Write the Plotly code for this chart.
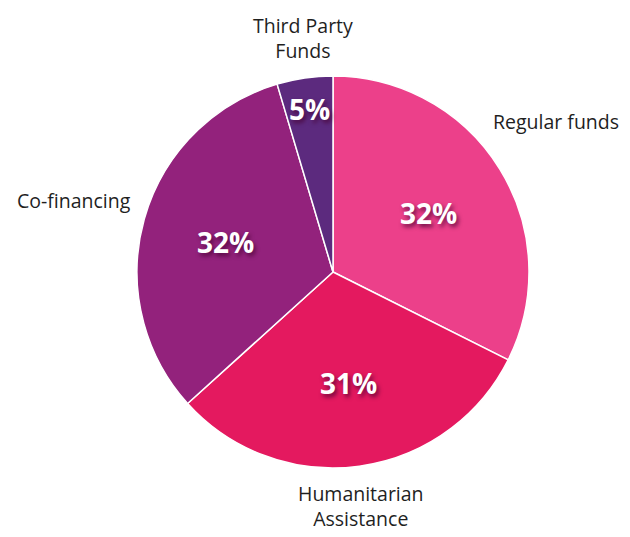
import math
import plotly.graph_objects as go

# ---- data ----
labels = ["Regular funds", "Humanitarian<br>Assistance", "Co-financing", "Third Party<br>Funds"]
values = [32.4, 30.9, 32.1, 4.6]
colors = ["#ec408a", "#e4195f", "#93227c", "#5c2a7e"]

# ---- layout geometry (figure px; page adds an 8px body margin) ----
W, H = 622, 529
CX, CY, R = 325, 264, 196  # pie centre / radius in px
LABEL_SIZE = 19.5
PCT_SIZE = 28

dom_x = [(CX - R) / W, (CX + R) / W]
dom_y = [1 - (CY + R) / H, 1 - (CY - R) / H]

fig = go.Figure(go.Pie(
    labels=labels, values=values, sort=False, direction="clockwise", rotation=0,
    marker=dict(colors=colors, line=dict(color="white", width=1.5)),
    textinfo="none", hoverinfo="label+percent", showlegend=False,
    domain=dict(x=dom_x, y=dom_y),
))

total = sum(values)
annotations = []
cum = 0.0
for lab, v in zip(labels, values):
    frac = v / total
    mid = (cum + frac / 2) * 2 * math.pi
    cum += frac
    dx, dy = math.sin(mid), -math.cos(mid)  # screen direction (y down)

    # percent label inside
    rf = 0.57 if frac > 0.1 else 0.84
    px, py = CX + dx * R * rf, CY + dy * R * rf
    annotations.append(dict(
        x=px / W, y=1 - py / H, xref="paper", yref="paper", showarrow=False,
        text=f"<b>{round(frac * 100):d}%</b>",
        font=dict(family="Open Sans", size=PCT_SIZE, color="white",
                  shadow="2px 3px 4px rgba(70,0,50,0.75)"),
        xanchor="center", yanchor="middle",
    ))

    # category label outside
    g = R + 12
    ox, oy = CX + dx * g, CY + dy * g
    xa = "left" if dx > 0.3 else ("right" if dx < -0.3 else "center")
    ya = "bottom" if dy < -0.1 else ("top" if dy > 0.1 else "middle")
    est_w = 0.54 * LABEL_SIZE * max(len(s) for s in lab.split("<br>"))
    if xa == "left" and ox + est_w > W - 2:
        # slide the label along the circle so it stays inside the figure
        ox = W - 2 - est_w
        oy = CY - math.copysign(math.sqrt(max(g * g - (ox - CX) ** 2, 0)), -dy)
    annotations.append(dict(
        x=ox / W, y=1 - oy / H, xref="paper", yref="paper", showarrow=False,
        text=lab, align="center",
        font=dict(family="Open Sans", size=LABEL_SIZE, color="#1f1f1f"),
        xanchor=xa, yanchor=ya,
    ))

fig.update_layout(
    width=W, height=H, margin=dict(l=0, r=0, t=0, b=0),
    paper_bgcolor="white", plot_bgcolor="white",
    annotations=annotations,
)

fig.write_html("out.html")
